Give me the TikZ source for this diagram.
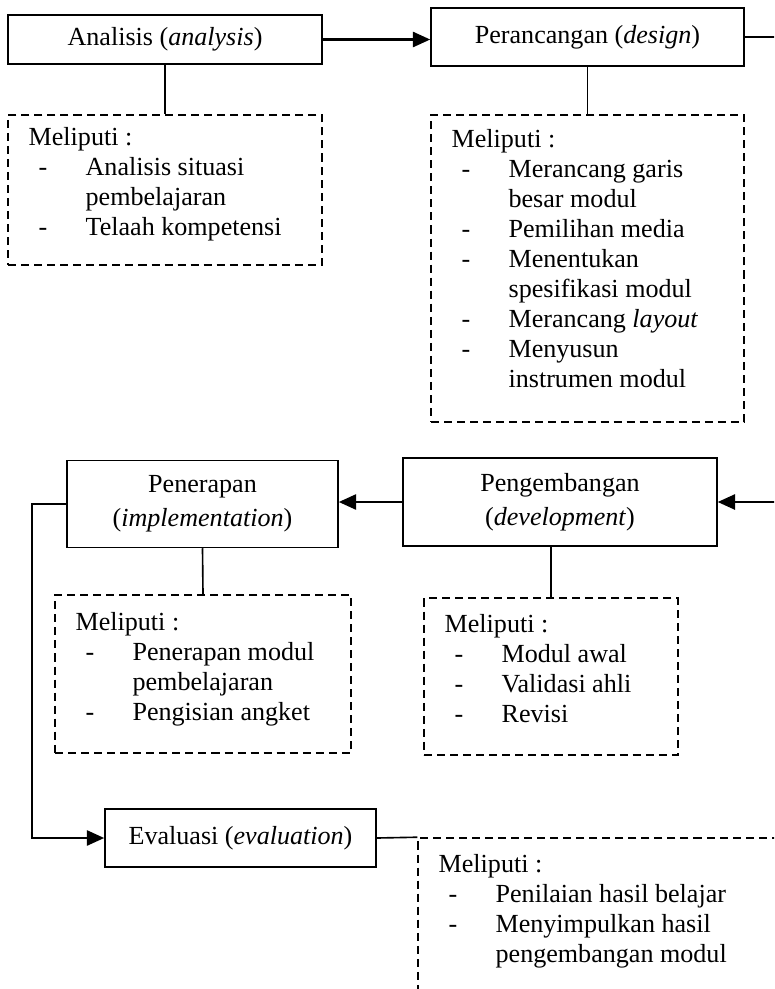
\documentclass[tikz,border=0pt]{standalone}
\usepackage{fontspec}
\setmainfont{Liberation Serif}
\usetikzlibrary{arrows.meta}

\newcommand{\detitem}[1]{\hspace*{4.6pt}\makebox[21.6pt][l]{-}#1}
\newcommand{\detcont}[1]{\hspace*{26.2pt}#1}

\begin{document}
\begin{tikzpicture}[x=0.46pt,y=-0.46pt,
  stage/.style={draw,line width=0.7pt,inner sep=0pt,align=center,
    font=\fontsize{12pt}{15.6pt}\selectfont},
  detailbox/.style={draw,line width=0.7pt,dash pattern=on 3.7pt off 2.3pt,inner sep=0pt},
  detailtext/.style={anchor=north west,inner sep=0pt,align=left,
    font=\fontsize{12pt}{13.8pt}\selectfont},
  flow/.style={line width=1pt,-{Triangle[length=8pt,width=7pt]}},
  stem/.style={line width=0.75pt}]

\useasboundingbox (0,0) rectangle (774,989);
\clip (0,0) rectangle (774,989);

% stages
\node[stage,minimum width=144.4pt,minimum height=22.5pt] (ana) at (165,39.5) {Analisis (\textit{analysis})};
\node[stage,minimum width=144pt,minimum height=26.7pt] (per) at (587.5,37) {Perancangan (\textit{design})};
\node[stage,minimum width=144.4pt,minimum height=40.5pt] (peng) at (560,502) {Pengembangan\\(\textit{development})};
\node[stage,minimum width=124.7pt,minimum height=40pt] (pen) at (202.5,504) {Penerapan\\(\textit{implementation})};
\node[stage,minimum width=124.7pt,minimum height=26.7pt] (eva) at (240.5,838) {Evaluasi (\textit{evaluation})};

% detail boxes
\node[detailbox,minimum width=144.4pt,minimum height=69pt] (anaBox) at (165,190) {};
\node[detailbox,minimum width=144pt,minimum height=141.2pt] (perBox) at (587.5,268.5) {};
\node[detailbox,minimum width=136.2pt,minimum height=72.7pt] (penBox) at (203,674) {};
\node[detailbox,minimum width=116.8pt,minimum height=72.2pt] (pengBox) at (551,676.5) {};
\node[detailbox,minimum width=189.5pt,minimum height=93.4pt] (evaBox) at (624,939.5) {};

% detail texts
\node[detailtext,shift={(21,10)}] (anaText) at (anaBox.north west)
  {\strut Meliputi :\\ \detitem{Analisis situasi}\\ \detcont{pembelajaran}\\ \detitem{Telaah kompetensi}};
\node[detailtext,shift={(21,12)}] (perText) at (perBox.north west)
  {\strut Meliputi :\\ \detitem{Merancang garis}\\ \detcont{besar modul}\\ \detitem{Pemilihan media}\\
   \detitem{Menentukan}\\ \detcont{spesifikasi modul}\\ \detitem{Merancang \textit{layout}}\\
   \detitem{Menyusun}\\ \detcont{instrumen modul}};
\node[detailtext,shift={(21,15)}] (penText) at (penBox.north west)
  {\strut Meliputi :\\ \detitem{Penerapan modul}\\ \detcont{pembelajaran}\\ \detitem{Pengisian angket}};
\node[detailtext,shift={(21,14)}] (pengText) at (pengBox.north west)
  {\strut Meliputi :\\ \detitem{Modul awal}\\ \detitem{Validasi ahli}\\ \detitem{Revisi}};
\node[detailtext,shift={(21,14)}] (evaText) at (evaBox.north west)
  {\strut Meliputi :\\ \detitem{Penilaian hasil belajar}\\ \detitem{Menyimpulkan hasil}\\ \detcont{pengembangan modul}};

% connectors
\coordinate (perR) at (800,0);
\coordinate (penL) at (32,0);
\draw[flow] (ana.east) -- (ana.east -| per.west);
\draw[flow] (per.east) -- (per.east -| perR) |- (peng.east);
\draw[flow] (peng.west) -- (peng.west -| pen.east);
\draw[flow] (pen.west) -- (pen.west -| penL) |- (eva.west);
\draw[stem] (ana.south) -- (anaBox.north);
\draw[stem] (per.south) -- (perBox.north);
\draw[stem] (pen.south) -- (penBox.north);
\draw[stem] (pengBox.north) -- (pengBox.north |- peng.south);
\draw[stem] (eva.east) -- (evaBox.north west);
\end{tikzpicture}
\end{document}
